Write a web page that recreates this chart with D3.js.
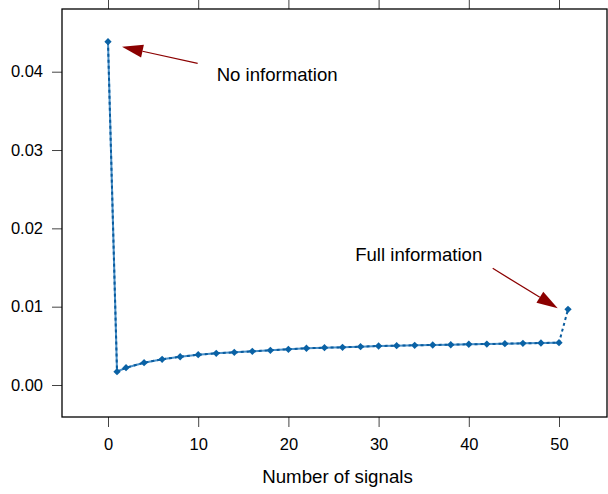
<!DOCTYPE html>
<html>
<head>
<meta charset="utf-8">
<script src="https://cdn.jsdelivr.net/npm/d3@7"></script>
<style>
  body { margin: 0; background: #fff; }
  svg text { font-family: "Liberation Sans", Arial, sans-serif; fill: #000; }
</style>
</head>
<body>
<svg id="chart" width="608" height="494"></svg>
<script>
// number of signals vs value
var signals = [0, 1, 2, 4, 6, 8, 10, 12, 14, 16, 18, 20, 22, 24, 26, 28, 30,
               32, 34, 36, 38, 40, 42, 44, 46, 48, 50, 51];
var values = [0.04383, 0.00170, 0.00221, 0.00285, 0.00328, 0.00361, 0.00387,
              0.00405, 0.00417, 0.00430, 0.00443, 0.00456, 0.00469, 0.00476,
              0.00481, 0.00489, 0.00498, 0.00502, 0.00507, 0.00511, 0.00514,
              0.00520, 0.00523, 0.00527, 0.00532, 0.00536, 0.00540, 0.00966];
var xTicks = [0, 10, 20, 30, 40, 50];
var yTicks = [0, 0.01, 0.02, 0.03, 0.04];
// annotations: [x1, y1, x2, y2] tail -> tip, and label anchors
var noInfoArrow = [9.94, 0.04107, 1.55, 0.04319];
var fullInfoArrow = [42.65, 0.0149, 49.86, 0.00979];
var noInfoLabel = [12.05, 0.0397, "No information"];
var fullInfoLabel = [27.4, 0.01672, "Full information"];

var svg = d3.select("#chart");

// plot box (pixels)
var box = { left: 62, right: 607, top: 9, bottom: 417 };

var x = d3.scaleLinear().domain([0, 50]).range([108, 559]);
var y = d3.scaleLinear().domain([0, 0.04]).range([385, 71.7]);

var pts = signals.map(function (s, i) { return { x: s, y: values[i] }; });

// bottom axis
var xAxis = d3.axisBottom(x).tickValues(xTicks).tickSize(10).tickPadding(11)
    .tickFormat(d3.format("d"));
var gx = svg.append("g").attr("transform", "translate(0," + box.bottom + ")").call(xAxis);
gx.select(".domain").remove();
gx.selectAll("line").attr("stroke", "#444");
gx.selectAll("text").style("font-size", "16.5px");

// top ticks (no labels)
var gt = svg.append("g").attr("transform", "translate(0," + box.top + ")")
    .call(d3.axisTop(x).tickValues(xTicks).tickSize(10).tickFormat(""));
gt.select(".domain").remove();
gt.selectAll("line").attr("stroke", "#444");

// left axis
var yAxis = d3.axisLeft(y).tickValues(yTicks).tickSize(10).tickPadding(9)
    .tickFormat(d3.format(".2f"));
var gy = svg.append("g").attr("transform", "translate(" + box.left + ",0)").call(yAxis);
gy.select(".domain").remove();
gy.selectAll("line").attr("stroke", "#444");
gy.selectAll("text").style("font-size", "16.5px");

// frame
svg.append("rect")
    .attr("x", box.left).attr("y", box.top)
    .attr("width", box.right - box.left).attr("height", box.bottom - box.top)
    .attr("fill", "none").attr("stroke", "#000").attr("stroke-width", 1.3);

// axis title
svg.append("text")
    .attr("x", (box.left + box.right) / 2 + 3).attr("y", 476)
    .attr("text-anchor", "middle").attr("dominant-baseline", "central")
    .style("font-size", "18.7px")
    .text("Number of signals");

var line = d3.line().x(function (d) { return x(d.x); }).y(function (d) { return y(d.y); });

// solid series (up to 50)
svg.append("path")
    .datum(pts.filter(function (d) { return d.x <= 50; }))
    .attr("d", line)
    .attr("fill", "none").attr("stroke", "#4a90c8").attr("stroke-width", 2);

// dotted series (all)
svg.append("path")
    .datum(pts)
    .attr("d", line)
    .attr("fill", "none").attr("stroke", "#0a5c9e").attr("stroke-width", 2)
    .attr("stroke-dasharray", "3,3");

// diamond markers
svg.selectAll("path.pt")
    .data(pts)
    .enter().append("path")
    .attr("class", "pt")
    .attr("d", d3.symbol().type(d3.symbolDiamond2).size(34))
    .attr("transform", function (d) { return "translate(" + x(d.x) + "," + y(d.y) + ")"; })
    .attr("fill", "#0a62a5");

// arrows
function arrow(a) {
    var x1 = x(a[0]), y1 = y(a[1]), x2 = x(a[2]), y2 = y(a[3]);
    var ang = Math.atan2(y2 - y1, x2 - x1);
    var len = 21, half = 6.5;
    var bx = x2 - len * Math.cos(ang), by = y2 - len * Math.sin(ang);
    svg.append("line")
        .attr("x1", x1).attr("y1", y1).attr("x2", bx).attr("y2", by)
        .attr("stroke", "#8b0000").attr("stroke-width", 1.2);
    var p = [
        [x2, y2],
        [bx + half * Math.sin(ang), by - half * Math.cos(ang)],
        [bx - half * Math.sin(ang), by + half * Math.cos(ang)]
    ];
    svg.append("polygon")
        .attr("points", p.map(function (q) { return q.join(","); }).join(" "))
        .attr("fill", "#8b0000");
}
arrow(noInfoArrow);
arrow(fullInfoArrow);

[noInfoLabel, fullInfoLabel].forEach(function (l) {
    svg.append("text")
        .attr("x", x(l[0])).attr("y", y(l[1]))
        .attr("dominant-baseline", "central")
        .style("font-size", "18.6px")
        .text(l[2]);
});
</script>
</body>
</html>
